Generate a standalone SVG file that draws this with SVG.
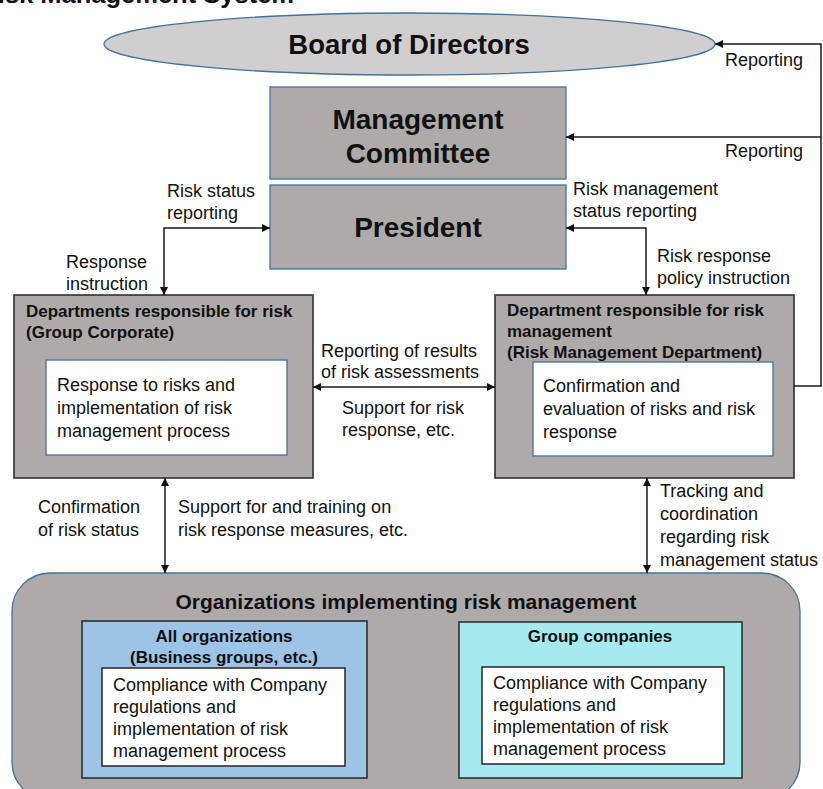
<svg xmlns="http://www.w3.org/2000/svg" width="823" height="789" viewBox="0 0 823 789">
  <style>
    text { font-family: "Liberation Sans", Arial, sans-serif; fill: #111; }
    .big { font-size: 28px; font-weight: bold; }
    .hd { font-size: 17px; font-weight: bold; }
    .lb { font-size: 18px; }
    .mid { text-anchor: middle; }
    .gray { fill: #aeaaaa; }
    .blueline { stroke: #41719c; stroke-width: 1.3; }
    .darkline { stroke: #262626; stroke-width: 1.5; }
    .white { fill: #ffffff; }
    .conn { fill: none; stroke: #1a1a1a; stroke-width: 1.5; }
  </style>
  <defs>
    <marker id="arr" viewBox="0 0 10 10" refX="10" refY="5" markerWidth="8" markerHeight="8" markerUnits="userSpaceOnUse" orient="auto-start-reverse">
      <path d="M0,0 L10,5 L0,10 z" fill="#111"/>
    </marker>
  </defs>

  <rect width="823" height="789" fill="#ffffff"/>

  <!-- heading, mostly above the visible area -->
  <text x="294" y="3" text-anchor="end" style="font-size:25.5px;font-weight:bold">Risk Management System</text>

  <g id="board">
    <ellipse cx="409.5" cy="44" rx="305.5" ry="31" fill="#d0cece" class="blueline"/>
    <text x="409" y="54" class="mid" style="font-size:27.5px;font-weight:bold">Board of Directors</text>
  </g>

  <g id="management-committee">
    <rect x="270" y="87" width="296" height="92" class="gray blueline"/>
    <text x="418" y="129" class="big mid">Management</text>
    <text x="418" y="163" class="big mid">Committee</text>
  </g>

  <g id="president">
    <rect x="270" y="185" width="296" height="84" class="gray blueline"/>
    <text x="418" y="237" class="big mid">President</text>
  </g>

  <g id="group-corporate">
    <rect x="14" y="295" width="299" height="183" class="gray darkline"/>
    <text x="26" y="317" class="hd">Departments responsible for risk</text>
    <text x="26" y="338" class="hd">(Group Corporate)</text>
    <rect x="46" y="360" width="241" height="95" class="white blueline"/>
    <text x="57" y="391" class="lb">Response to risks and</text>
    <text x="57" y="414" class="lb">implementation of risk</text>
    <text x="57" y="437" class="lb">management process</text>
  </g>

  <g id="risk-management-dept">
    <rect x="495" y="295" width="299" height="183" class="gray darkline"/>
    <text x="507" y="316" class="hd">Department responsible for risk</text>
    <text x="507" y="337" class="hd">management</text>
    <text x="507" y="358" class="hd">(Risk Management Department)</text>
    <rect x="533" y="362" width="240" height="94" class="white blueline"/>
    <text x="543" y="392" class="lb">Confirmation and</text>
    <text x="543" y="415" class="lb">evaluation of risks and risk</text>
    <text x="543" y="438" class="lb">response</text>
  </g>

  <g id="implementing-orgs">
    <rect x="12" y="573" width="788" height="227" rx="38" ry="38" class="gray blueline"/>
    <text x="406" y="609" class="mid" style="font-size:21px;font-weight:bold">Organizations implementing risk management</text>
  </g>

  <g id="all-organizations">
    <rect x="82" y="621" width="285" height="157" fill="#9dc3e6" class="darkline"/>
    <text x="224" y="642" class="mid" style="font-size:17px;font-weight:bold">All organizations</text>
    <text x="224" y="663" class="mid" style="font-size:17px;font-weight:bold">(Business groups, etc.)</text>
    <rect x="102" y="668" width="243" height="98" class="white darkline"/>
    <text x="113" y="691" class="lb">Compliance with Company</text>
    <text x="113" y="713" class="lb">regulations and</text>
    <text x="113" y="735" class="lb">implementation of risk</text>
    <text x="113" y="757" class="lb">management process</text>
  </g>

  <g id="group-companies">
    <rect x="459" y="622" width="283" height="156" fill="#a6eaf0" class="darkline"/>
    <text x="600" y="642" class="mid" style="font-size:17px;font-weight:bold">Group companies</text>
    <rect x="482" y="667" width="242" height="97" class="white darkline"/>
    <text x="493" y="689" class="lb">Compliance with Company</text>
    <text x="493" y="711" class="lb">regulations and</text>
    <text x="493" y="733" class="lb">implementation of risk</text>
    <text x="493" y="755" class="lb">management process</text>
  </g>

  <g id="connectors">
    <!-- reporting loop up the right side -->
    <path d="M794,386 H821 V44 H715" class="conn" marker-end="url(#arr)"/>
    <path d="M821,137 H566" class="conn" marker-end="url(#arr)"/>
    <!-- president to group corporate -->
    <path d="M270,228 H164 V295" class="conn" marker-start="url(#arr)" marker-end="url(#arr)"/>
    <!-- president to risk management department -->
    <path d="M566,228 H646 V295" class="conn" marker-start="url(#arr)" marker-end="url(#arr)"/>
    <!-- between the two departments -->
    <path d="M313,387 H495" class="conn" marker-start="url(#arr)" marker-end="url(#arr)"/>
    <!-- down to implementing organizations -->
    <path d="M165,478 V573" class="conn" marker-start="url(#arr)" marker-end="url(#arr)"/>
    <path d="M647,478 V573" class="conn" marker-start="url(#arr)" marker-end="url(#arr)"/>

    <text x="725" y="66" class="lb">Reporting</text>
    <text x="725" y="157" class="lb">Reporting</text>
    <text x="167" y="197" class="lb">Risk status</text>
    <text x="167" y="219" class="lb">reporting</text>
    <text x="66" y="268" class="lb">Response</text>
    <text x="66" y="290" class="lb">instruction</text>
    <text x="573" y="195" class="lb">Risk management</text>
    <text x="573" y="217" class="lb">status reporting</text>
    <text x="657" y="262" class="lb">Risk response</text>
    <text x="657" y="284" class="lb">policy instruction</text>
    <text x="321" y="357" class="lb">Reporting of results</text>
    <text x="321" y="378" class="lb">of risk assessments</text>
    <text x="342" y="414" class="lb">Support for risk</text>
    <text x="342" y="436" class="lb">response, etc.</text>
    <text x="38" y="513" class="lb">Confirmation</text>
    <text x="38" y="536" class="lb">of risk status</text>
    <text x="178" y="513" class="lb">Support for and training on</text>
    <text x="178" y="536" class="lb">risk response measures, etc.</text>
    <text x="660" y="497" class="lb">Tracking and</text>
    <text x="660" y="520" class="lb">coordination</text>
    <text x="660" y="543" class="lb">regarding risk</text>
    <text x="660" y="566" class="lb">management status</text>
  </g>
</svg>
